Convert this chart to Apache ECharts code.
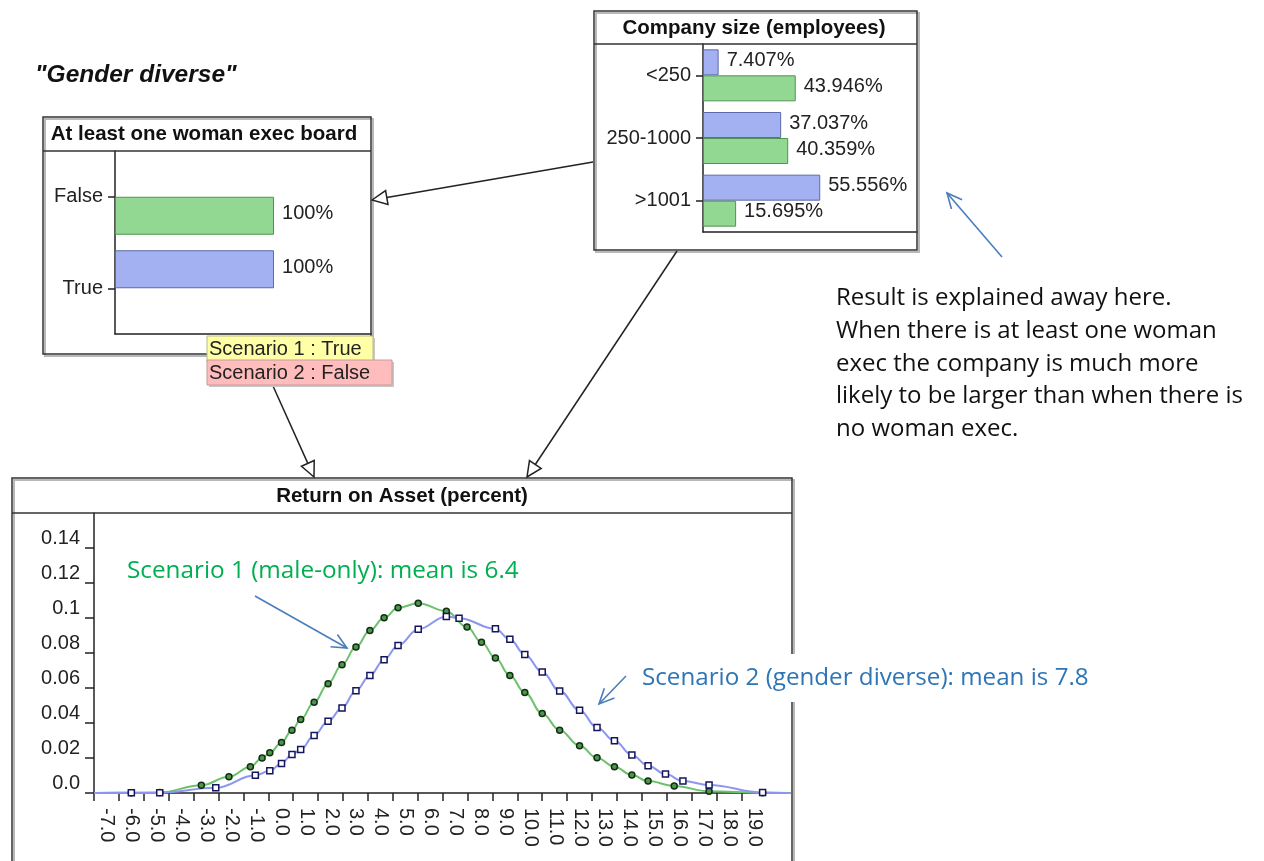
<!DOCTYPE html>
<html>
<head>
<meta charset="utf-8">
<script src="https://cdn.jsdelivr.net/npm/echarts@6/dist/echarts.min.js"></script>
<style>
html,body{margin:0;padding:0;background:#fff;}
#chart{width:1264px;height:861px;}
</style>
</head>
<body>
<div id="chart"></div>
<script>
// ---------- DATA ----------
const womanCats = ['False', 'True'];
const womanS1 = [0, 100];      // Scenario 1 (blue)
const womanS2 = [100, 0];      // Scenario 2 (green)

const sizeCats = ['<250', '250-1000', '>1001'];
const sizeS1 = [7.407, 37.037, 55.556];   // blue
const sizeS2 = [43.946, 40.359, 15.695];  // green

const roaTicks = [-7,-6,-5,-4,-3,-2,-1,0,1,2,3,4,5,6,7,8,9,10,11,12,13,14,15,16,17,18,19];
const probTicks = [0, 0.02, 0.04, 0.06, 0.08, 0.1, 0.12, 0.14];

const roa1X = [-7, -5.5, -4.36, -2.69, -1.58, -0.72, -0.25, 0.06, 0.53, 0.95, 1.30, 1.84, 2.40, 2.96, 3.52, 4.08, 4.65, 5.21, 6.02, 7.15, 7.98, 8.56, 9.12, 9.70, 10.30, 11.0, 11.7, 12.5, 13.2, 13.9, 14.6, 15.25, 16.3, 17.7, 19.85, 20.95];
const roa1Y = [0, 0.0001, 0.0003, 0.0044, 0.0093, 0.015, 0.020, 0.023, 0.0289, 0.0359, 0.042, 0.0518, 0.0625, 0.0733, 0.0834, 0.0929, 0.1001, 0.1058, 0.1085, 0.1039, 0.0948, 0.0862, 0.0771, 0.0672, 0.0574, 0.0454, 0.0359, 0.0270, 0.0201, 0.015, 0.0103, 0.0068, 0.004, 0.001, 0.0002, 0];

const roa2X = [-7, -5.5, -4.36, -2.11, -0.52, 0.06, 0.53, 0.95, 1.30, 1.84, 2.40, 2.96, 3.52, 4.08, 4.65, 5.21, 6.02, 7.15, 7.66, 9.12, 9.70, 10.30, 11.0, 11.7, 12.5, 13.2, 13.9, 14.6, 15.25, 15.95, 16.65, 17.7, 19.85, 20.95];
const roa2Y = [0, 0.0001, 0.0002, 0.003, 0.0101, 0.0127, 0.0169, 0.0220, 0.0249, 0.0329, 0.0410, 0.0486, 0.0585, 0.0672, 0.0762, 0.0843, 0.0936, 0.1009, 0.0999, 0.0938, 0.0878, 0.0792, 0.0691, 0.0583, 0.0473, 0.0374, 0.0298, 0.0217, 0.0156, 0.0108, 0.0068, 0.0046, 0.0003, 0];

// ---------- STYLE ----------
const AR = '"Liberation Sans", Arial, sans-serif';
const CAL = '"Open Sans", "Noto Sans", sans-serif';
const INK = '#222';
const BLUE_BAR = '#a3b1f3', BLUE_EDGE = '#5d6aa8';
const GREEN_BAR = '#92d892', GREEN_EDGE = '#4f944f';

function pts(xs, ys) {
  return xs.map((x, i) => {
    const item = { value: [x, ys[i]] };
    if (i === 0 || i === xs.length - 1) item.symbol = 'none';
    return item;
  });
}
// zero-length bars are not drawn (avoids a coloured sliver over the axis line)
const bars = arr => arr.map(v => (v === 0 ? '-' : v));

const hiddenVal = (grid, max) => ({
  gridIndex: grid, type: 'value', min: 0, max: max,
  axisLine: { show: true, onZero: false, lineStyle: { color: INK, width: 1.5 } },
  axisTick: { show: false }, axisLabel: { show: false }, splitLine: { show: false }
});
const catAxis = (grid, cats) => ({
  gridIndex: grid, type: 'category', data: cats, inverse: true,
  axisLine: { show: true, onZero: false, lineStyle: { color: INK, width: 1.5 } },
  axisTick: { show: true, alignWithLabel: true, length: 7, lineStyle: { color: INK, width: 1.5 } },
  axisLabel: { fontFamily: AR, fontSize: 20, color: INK, margin: 12 },
  splitLine: { show: false }
});
const barLabel = {
  show: true, position: 'right', distance: 8, offset: [0, -2],
  fontFamily: AR, fontSize: 20, color: INK,
  formatter: p => (p.value ? p.value + '%' : '')
};

// ---------- DIAGRAM HELPERS ----------
function hollowArrow(x1, y1, x2, y2) {
  const dx = x2 - x1, dy = y2 - y1, len = Math.hypot(dx, dy);
  const ux = dx / len, uy = dy / len, nx = -uy, ny = ux;
  const L = 15, W = 7;
  const bx = x2 - ux * L, by = y2 - uy * L;
  return [
    { type: 'line', z: 5, shape: { x1, y1, x2: bx, y2: by }, style: { stroke: '#222', lineWidth: 1.5 } },
    { type: 'polygon', z: 5, shape: { points: [[x2, y2], [bx + nx * W, by + ny * W], [bx - nx * W, by - ny * W]] },
      style: { fill: '#fff', stroke: '#222', lineWidth: 1.5 } }
  ];
}
function vArrow(x1, y1, x2, y2) {
  const dx = x2 - x1, dy = y2 - y1, len = Math.hypot(dx, dy);
  const ux = dx / len, uy = dy / len, nx = -uy, ny = ux;
  const L = 15, W = 7;
  const bx = x2 - ux * L, by = y2 - uy * L;
  const c = '#4a7ebb';
  return [
    { type: 'line', z: 5, shape: { x1, y1, x2, y2 }, style: { stroke: c, lineWidth: 1.6 } },
    { type: 'polyline', z: 5, shape: { points: [[bx + nx * W, by + ny * W], [x2, y2], [bx - nx * W, by - ny * W]] },
      style: { stroke: c, lineWidth: 1.6, fill: null } }
  ];
}
function box(x, y, w, h, titleY) {
  return [
    { type: 'rect', z: 1, shape: { x: x + 2, y: y + 2, width: w, height: h }, style: { fill: null, stroke: '#b8b8b8', lineWidth: 2 } },
    { type: 'rect', z: 2, shape: { x, y, width: w, height: h }, style: { fill: null, stroke: '#333', lineWidth: 1.5 } },
    { type: 'line', z: 2, shape: { x1: x, y1: titleY, x2: x + w, y2: titleY }, style: { stroke: '#333', lineWidth: 1.5 } }
  ];
}
function title(cx, cy, txt) {
  return { type: 'text', z: 3, x: cx, y: cy,
    style: { text: txt, fontFamily: AR, fontSize: 20.5, fontWeight: 'bold', fill: '#111', align: 'center', verticalAlign: 'middle' } };
}

const graphics = [].concat(
  box(43, 117, 328, 237, 151),
  box(594, 11, 323, 239, 44),
  box(12, 478, 780, 420, 513),
  [title(204, 134, 'At least one woman exec board'),
   title(754, 28, 'Company size (employees)'),
   title(402, 496, 'Return on Asset (percent)')],
  hollowArrow(593, 162, 372, 200),
  hollowArrow(677, 251, 527, 477),
  hollowArrow(273, 386, 314, 477),
  [
    { type: 'rect', z: 6, shape: { x: 209, y: 338, width: 166, height: 26 }, style: { fill: '#c8c8c8' } },
    { type: 'rect', z: 6, shape: { x: 207, y: 336, width: 166, height: 26 }, style: { fill: '#ffffa6', stroke: '#b9b98a', lineWidth: 1 } },
    { type: 'text', z: 7, x: 209, y: 349, style: { text: 'Scenario 1 : True', fontFamily: AR, fontSize: 20, fill: INK, verticalAlign: 'middle' } },
    { type: 'rect', z: 8, shape: { x: 209, y: 362, width: 185, height: 25 }, style: { fill: '#c8c8c8' } },
    { type: 'rect', z: 8, shape: { x: 207, y: 360, width: 185, height: 25 }, style: { fill: '#ffbcbc', stroke: '#c89a9a', lineWidth: 1 } },
    { type: 'text', z: 9, x: 209, y: 373, style: { text: 'Scenario 2 : False', fontFamily: AR, fontSize: 20, fill: INK, verticalAlign: 'middle' } },
    { type: 'text', z: 3, x: 35, y: 75, style: { text: '"Gender diverse"', fontFamily: AR, fontSize: 24.5, fontWeight: 'bold', fontStyle: 'italic', fill: '#111', verticalAlign: 'middle' } },
    { type: 'text', z: 3, x: 836, y: 282, style: {
        text: 'Result is explained away here.\nWhen there is at least one woman\nexec the company is much more\nlikely to be larger than when there is\nno woman exec.',
        fontFamily: CAL, fontSize: 24, lineHeight: 32.7, fill: '#111', verticalAlign: 'top' } },
    { type: 'text', z: 10, x: 127, y: 571, style: { text: 'Scenario 1 (male-only): mean is 6.4', fontFamily: CAL, fontSize: 24.3, fill: '#00b050', verticalAlign: 'middle' } },
    { type: 'text', z: 10, x: 632, y: 678, style: { text: 'Scenario 2 (gender diverse): mean is 7.8', fontFamily: CAL, fontSize: 24.2, fill: '#2e75b6', verticalAlign: 'middle',
        backgroundColor: '#fff', padding: [12, 10, 12, 10] } }
  ],
  vArrow(1002, 257, 947, 193),
  vArrow(255, 596, 347, 648),
  vArrow(626, 676, 599, 704)
);

// ---------- CHART ----------
const chart = echarts.init(document.getElementById('chart'), null, { renderer: 'canvas' });
chart.setOption({
  animation: false,
  backgroundColor: '#fff',
  grid: [
    { left: 115, top: 151, width: 256, height: 183, containLabel: false, outerBoundsMode: 'none' },
    { left: 703, top: 44, width: 214, height: 188, containLabel: false, outerBoundsMode: 'none' },
    { left: 94, top: 513, width: 696, height: 280, containLabel: false, outerBoundsMode: 'none' }
  ],
  xAxis: [
    hiddenVal(0, 161),
    hiddenVal(1, 101.4),
    {
      gridIndex: 2, type: 'value', min: -7, max: 20.95, position: 'bottom',
      axisLine: { show: true, onZero: false, lineStyle: { color: INK, width: 1.5 } },
      axisTick: { show: true, customValues: roaTicks, length: 8, lineStyle: { color: INK, width: 1.5 } },
      axisLabel: { show: false }, splitLine: { show: false }
    },
    {
      gridIndex: 2, type: 'value', min: -7.52, max: 20.43, position: 'bottom',
      axisLine: { show: false, onZero: false }, axisTick: { show: false }, splitLine: { show: false },
      axisLabel: { show: true, customValues: roaTicks, rotate: -90, margin: 15, fontFamily: AR, fontSize: 20, color: INK,
        formatter: v => Number(v).toFixed(1) }
    }
  ],
  yAxis: [
    catAxis(0, womanCats),
    catAxis(1, sizeCats),
    {
      gridIndex: 2, type: 'value', min: 0, max: 0.16,
      axisLine: { show: true, onZero: false, lineStyle: { color: INK, width: 1.5 } },
      axisTick: { show: true, customValues: probTicks, length: 9, lineStyle: { color: INK, width: 1.5 } },
      axisLabel: { show: true, customValues: probTicks, margin: 14, fontFamily: AR, fontSize: 20, color: INK, verticalAlign: 'bottom',
        formatter: v => (v === 0 ? '0.0' : String(+Number(v).toFixed(2))) },
      splitLine: { show: false }
    }
  ],
  graphic: { elements: graphics },
  series: [
    { type: 'bar', name: 'Scenario 1', xAxisIndex: 0, yAxisIndex: 0, data: bars(womanS1), barWidth: 38, barGap: '0%',
      itemStyle: { color: BLUE_BAR, borderColor: BLUE_EDGE, borderWidth: 1 }, label: barLabel },
    { type: 'bar', name: 'Scenario 2', xAxisIndex: 0, yAxisIndex: 0, data: bars(womanS2), barWidth: 38, barGap: '0%',
      itemStyle: { color: GREEN_BAR, borderColor: GREEN_EDGE, borderWidth: 1 }, label: barLabel },
    { type: 'bar', name: 'Scenario 1', xAxisIndex: 1, yAxisIndex: 1, data: bars(sizeS1), barWidth: 26, barGap: '0%',
      itemStyle: { color: BLUE_BAR, borderColor: BLUE_EDGE, borderWidth: 1 }, label: barLabel },
    { type: 'bar', name: 'Scenario 2', xAxisIndex: 1, yAxisIndex: 1, data: bars(sizeS2), barWidth: 26, barGap: '0%',
      itemStyle: { color: GREEN_BAR, borderColor: GREEN_EDGE, borderWidth: 1 }, label: barLabel },
    { type: 'line', name: 'Scenario 1 ROA', xAxisIndex: 2, yAxisIndex: 2, data: pts(roa1X, roa1Y),
      smooth: 0.4, smoothMonotone: 'x', showAllSymbol: true, symbol: 'circle', symbolSize: 6,
      lineStyle: { color: '#6cc26c', width: 2 },
      itemStyle: { color: '#4e954e', borderColor: '#132f13', borderWidth: 1.5 } },
    { type: 'line', name: 'Scenario 2 ROA', xAxisIndex: 2, yAxisIndex: 2, data: pts(roa2X, roa2Y),
      smooth: 0.4, smoothMonotone: 'x', showAllSymbol: true, symbol: 'rect', symbolSize: 6,
      lineStyle: { color: '#8c96ee', width: 2 },
      itemStyle: { color: '#ffffff', borderColor: '#15155e', borderWidth: 1.5 } }
  ]
});
</script>
</body>
</html>
